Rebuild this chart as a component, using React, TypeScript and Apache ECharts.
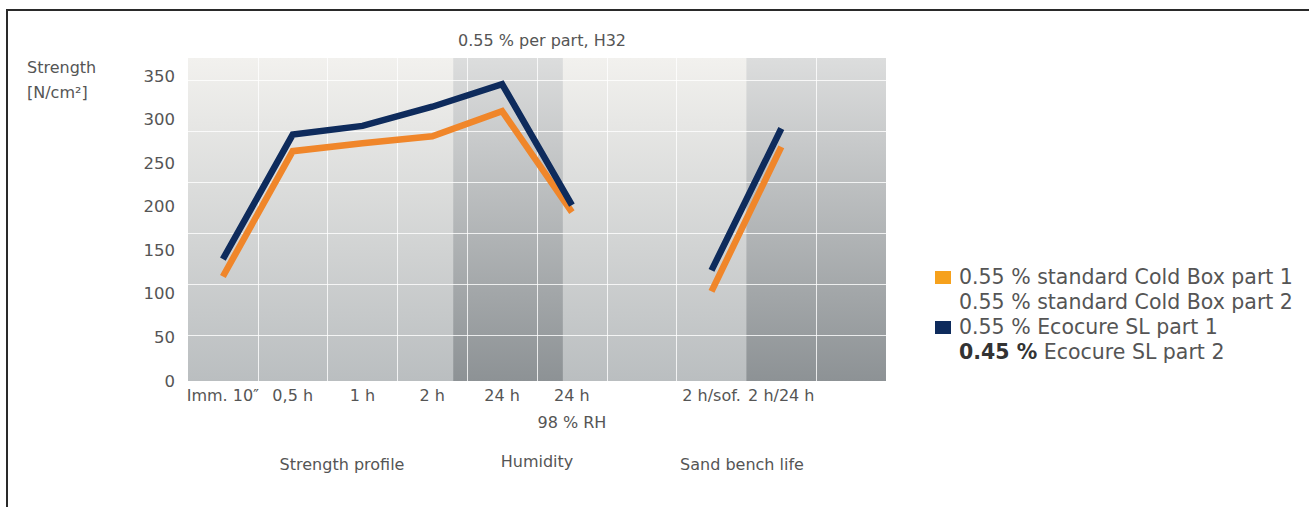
import React, { useEffect, useRef } from "react";
import * as echarts from "echarts";

// ---- data ----
const categories = ["Imm. 10″", "0,5 h", "1 h", "2 h", "24 h", "24 h\n98 % RH", "", "2 h/sof.", "2 h/24 h", ""];
const coldBox = [120, 264, 273, 281, 310, 194, null, 103, 269, null];
const ecocure = [140, 283, 293, 315, 341, 202, null, 127, 290, null];
const yMin = 0;
const yMax = 371;
const yInterval = 50;
const groupLabels = ["Strength profile", "Humidity", "Sand bench life"];
const legendRows = [
  "0.55 % standard Cold Box part 1",
  "0.55 % standard Cold Box part 2",
  "0.55 % Ecocure SL part 1",
  "0.45 % Ecocure SL part 2",
];

// ---- decoration (style) ----
const FONT = "DejaVu Sans";
const TXT = "#555555";
const ORANGE = "#F0862A";
const ORANGE_KEY = "#F6A11C";
const NAVY = "#0E2B5C";
const bands = [
  [3.8, 5.37],
  [8, 10],
];
const hLines = [52.8, 111.4, 170.0, 228.6, 287.2, 345.8];
const vLines = [1, 2, 3, 4, 5, 6, 7, 9];

export default function App() {
  const ref = useRef<HTMLDivElement>(null);
  useEffect(() => {
    if (!ref.current) return;
    const chart = echarts.init(ref.current, undefined, { renderer: "svg" });
    const toPts = (arr: (number | null)[]) => arr.map((v, i) => [i + 0.5, v == null ? "-" : v]);
    const white = "rgba(255,255,255,0.8)";
    chart.setOption({
      animation: false,
      grid: {
        left: 188,
        top: 58,
        width: 698,
        height: 323,
        show: true,
        borderWidth: 0,
        backgroundColor: new echarts.graphic.LinearGradient(0, 0, 0, 1, [
          { offset: 0, color: "#f2f1ee" },
          { offset: 1, color: "#babec0" },
        ]),
      },
      xAxis: [
        { type: "value", min: 0, max: 10, show: false },
        {
          type: "category",
          data: categories,
          boundaryGap: true,
          position: "bottom",
          axisLine: { show: false },
          axisTick: { show: false },
          splitLine: { show: false },
          axisLabel: {
            interval: 0,
            margin: 1,
            fontFamily: FONT,
            fontSize: 16,
            lineHeight: 27,
            color: TXT,
          },
        },
      ],
      yAxis: {
        type: "value",
        min: yMin,
        max: yMax,
        interval: yInterval,
        axisLine: { show: false },
        axisTick: { show: false },
        splitLine: { show: false },
        axisLabel: {
          showMaxLabel: false,
          margin: 13,
          fontFamily: FONT,
          fontSize: 16.5,
          color: TXT,
        },
      },
      series: [
        {
          type: "line",
          xAxisIndex: 0,
          data: [],
          silent: true,
          markArea: {
            silent: true,
            z: 2,
            itemStyle: {
              color: new echarts.graphic.LinearGradient(0, 0, 0, 1, [
                { offset: 0, color: "#dcdddd" },
                { offset: 1, color: "#8d9295" },
              ]),
            },
            data: bands.map((b) => [{ xAxis: b[0] }, { xAxis: b[1] }]),
          },
        },
        {
          type: "line",
          xAxisIndex: 0,
          data: [],
          silent: true,
          markLine: {
            silent: true,
            z: 3,
            symbol: ["none", "none"],
            label: { show: false },
            lineStyle: { color: white, width: 1, type: "solid" },
            data: [...hLines.map((v) => ({ yAxis: v })), ...vLines.map((v) => ({ xAxis: v }))],
          },
        },
        {
          name: "0.55 % standard Cold Box",
          type: "line",
          xAxisIndex: 0,
          z: 10,
          data: toPts(coldBox),
          showSymbol: false,
          symbol: "none",
          lineStyle: { color: ORANGE, width: 6.5, cap: "butt", join: "miter" },
          itemStyle: { color: ORANGE },
        },
        {
          name: "0.55 % Ecocure SL",
          type: "line",
          xAxisIndex: 0,
          z: 11,
          data: toPts(ecocure),
          showSymbol: false,
          symbol: "none",
          lineStyle: { color: NAVY, width: 6.5, cap: "butt", join: "miter" },
          itemStyle: { color: NAVY },
        },
      ],
      graphic: [
        {
          type: "polyline",
          silent: true,
          shape: { points: [[7, 507], [7, 10], [1309, 10]] },
          style: { stroke: "#2a2a2a", lineWidth: 2, fill: null },
        },
        {
          type: "text",
          x: 542,
          y: 40,
          style: {
            text: "0.55 % per part, H32",
            fontFamily: FONT,
            fontSize: 16,
            fill: TXT,
            textAlign: "center",
            textVerticalAlign: "middle",
          },
        },
        {
          type: "text",
          x: 27,
          y: 55,
          style: {
            text: "Strength\n[N/cm²]",
            fontFamily: FONT,
            fontSize: 16,
            lineHeight: 25,
            fill: TXT,
            textAlign: "left",
            textVerticalAlign: "top",
          },
        },
        ...[
          [342, 464],
          [537, 461],
          [742, 464],
        ].map((p, i) => ({
          type: "text",
          x: p[0],
          y: p[1],
          style: {
            text: groupLabels[i],
            fontFamily: FONT,
            fontSize: 16,
            fill: TXT,
            textAlign: "center",
            textVerticalAlign: "middle",
          },
        })),
        { type: "rect", shape: { x: 935, y: 271, width: 16, height: 13 }, style: { fill: ORANGE_KEY } },
        { type: "rect", shape: { x: 935, y: 321, width: 16, height: 13 }, style: { fill: NAVY } },
        ...legendRows.map((t, i) => ({
          type: "text",
          x: 959,
          y: 277 + i * 25,
          style: {
            text: i === 3 ? "{b|" + t.slice(0, 6) + "}" + t.slice(6) : t,
            rich: { b: { fontWeight: "bold", fontFamily: FONT, fontSize: 20.5, fill: "#333" } },
            fontFamily: FONT,
            fontSize: 20.5,
            fill: TXT,
            textAlign: "left",
            textVerticalAlign: "middle",
          },
        })),
      ],
    });
    return () => chart.dispose();
  }, []);
  return (
    <div
      ref={ref}
      style={{ position: "fixed", left: 0, top: 0, width: 1309, height: 507, background: "#fff" }}
    />
  );
}
